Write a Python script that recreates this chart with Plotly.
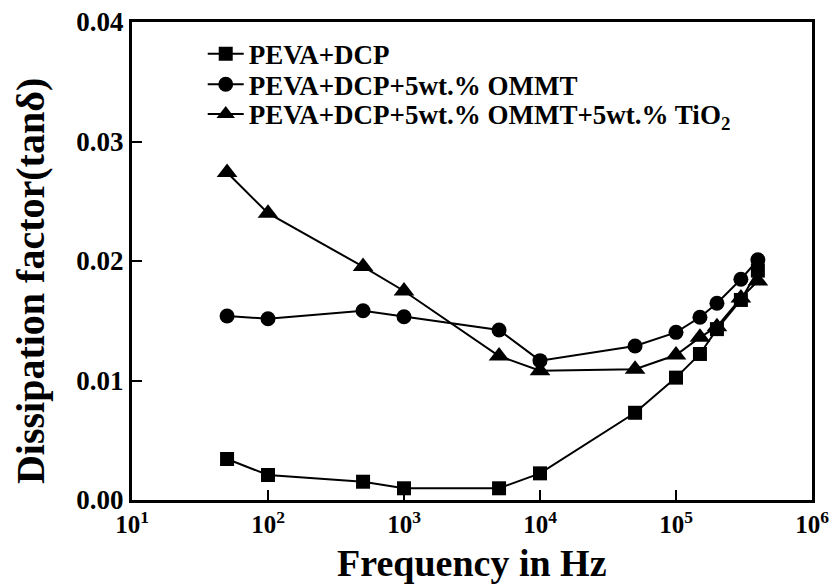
import plotly.graph_objects as go

# Frequency points (Hz)
freq = [50, 100, 500, 1000, 5000, 10000, 50000, 100000, 150000, 200000, 300000, 400000]

# Dissipation factor (tan delta) for each formulation
peva_dcp = [0.00343, 0.00209, 0.00153, 0.00098, 0.00098, 0.00223, 0.0073, 0.01024, 0.01222, 0.0143, 0.01674, 0.0192]
peva_ommt = [0.0154, 0.01517, 0.01584, 0.01534, 0.01423, 0.01166, 0.01289, 0.01403, 0.01529, 0.01646, 0.01847, 0.0201]
peva_ommt_tio2 = [0.0274, 0.0240, 0.01953, 0.01749, 0.01205, 0.01082, 0.01094, 0.01213, 0.01361, 0.0145, 0.0169, 0.01833]

series_names = [
    "PEVA+DCP",
    "PEVA+DCP+5wt.% OMMT",
    "PEVA+DCP+5wt.% OMMT+5wt.% TiO<sub>2</sub>",
]
series_symbols = ["square", "circle", "triangle-up"]
series_sizes = [14, 15, 18]

x_tickvals = [10, 100, 1000, 10000, 100000, 1000000]
x_ticktext = ["10<sup>1</sup>", "10<sup>2</sup>", "10<sup>3</sup>",
              "10<sup>4</sup>", "10<sup>5</sup>", "10<sup>6</sup>"]
y_tickvals = [0.00, 0.01, 0.02, 0.03, 0.04]
y_ticktext = ["0.00", "0.01", "0.02", "0.03", "0.04"]

FONT = "Liberation Serif"
legend_ids = ["legend", "legend2", "legend3"]
legend_tops = [0.984, 0.920, 0.858]

fig = go.Figure()
for name, ys, sym, sz, lg in zip(series_names, [peva_dcp, peva_ommt, peva_ommt_tio2],
                                 series_symbols, series_sizes, legend_ids):
    fig.add_trace(go.Scatter(
        x=freq, y=ys, name=name, mode="lines+markers",
        line=dict(color="black", width=2),
        marker=dict(symbol=sym, size=sz, color="black"),
        legend=lg,
    ))

legend_style = dict(
    x=0.104, xanchor="left", yanchor="top",
    bgcolor="rgba(0,0,0,0)",
    font=dict(family=FONT, size=27, color="black", weight="bold"),
    itemwidth=36,
)

fig.update_layout(
    width=831, height=588,
    margin=dict(l=132, r=19, t=22, b=88),
    paper_bgcolor="white", plot_bgcolor="white",
    font=dict(family=FONT, color="black"),
    showlegend=True,
    legend=dict(y=legend_tops[0], **legend_style),
    legend2=dict(y=legend_tops[1], **legend_style),
    legend3=dict(y=legend_tops[2], **legend_style),
    annotations=[
        dict(text="Frequency in Hz", xref="paper", yref="paper",
             x=0.5, y=-0.132, xanchor="center", yanchor="middle",
             showarrow=False,
             font=dict(family=FONT, size=38, color="black", weight="bold")),
        dict(text="Dissipation factor(tanδ)", xref="paper", yref="paper",
             x=-0.15, y=0.458, xanchor="center", yanchor="middle",
             textangle=-90, showarrow=False,
             font=dict(family=FONT, size=40, color="black", weight="bold")),
    ],
)

fig.update_xaxes(
    type="log", range=[1, 6],
    tickvals=x_tickvals, ticktext=x_ticktext,
    ticks="inside", ticklen=10, tickwidth=2, tickcolor="black",
    showline=True, linewidth=3, linecolor="black", mirror=True,
    showgrid=False, zeroline=False,
    tickfont=dict(family=FONT, size=25, color="black", weight="bold"),
    ticklabeloverflow="allow",
    automargin=False,
)
fig.update_yaxes(
    range=[0, 0.04],
    tickvals=y_tickvals, ticktext=y_ticktext,
    ticks="inside", ticklen=10, tickwidth=2, tickcolor="black",
    showline=True, linewidth=3, linecolor="black", mirror=True,
    showgrid=False, zeroline=False,
    tickfont=dict(family=FONT, size=27, color="black", weight="bold"),
    automargin=False,
)

fig.write_html("out.html")
